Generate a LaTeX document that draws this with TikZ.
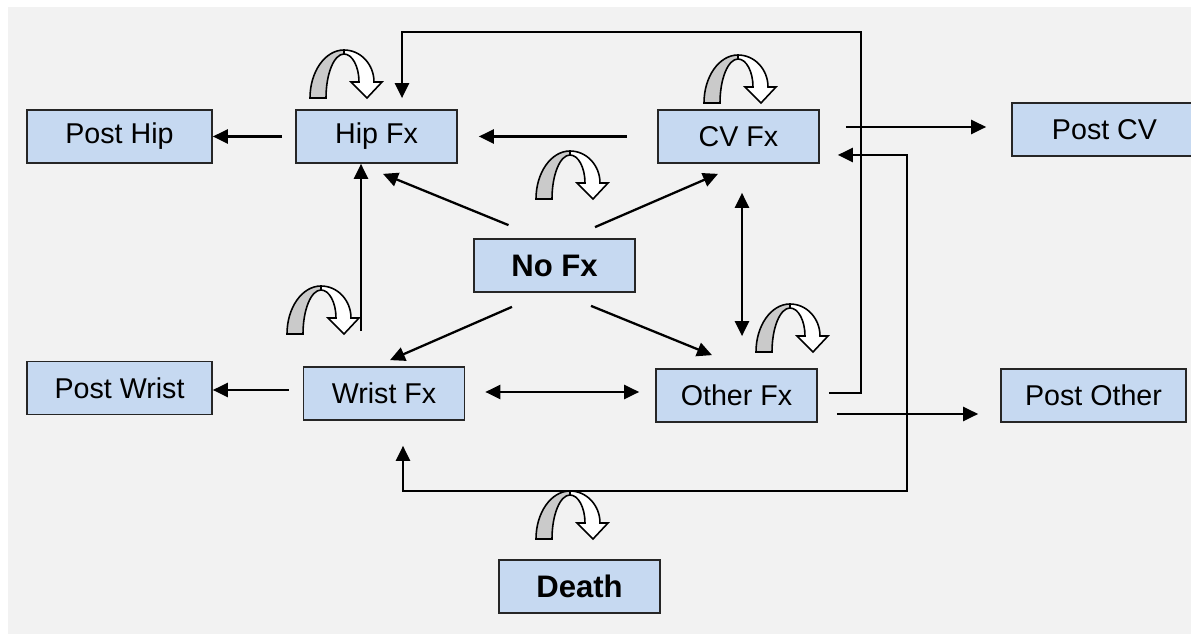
\documentclass[tikz,border=0pt]{standalone}
\usepackage{fontspec}
\setmainfont{Liberation Sans}
\usetikzlibrary{arrows.meta,calc}

\definecolor{latar}{HTML}{F2F2F2}
\definecolor{blok}{HTML}{C6D9F1}
\definecolor{abu}{HTML}{CACACA}

\tikzset{
  kotak/.style={draw=black!85, fill=blok, line width=1pt, minimum width=3.22cm,
    minimum height=1.06cm, inner sep=0pt, font=\fontsize{16.3}{19}\selectfont},
  kotakpost/.style={kotak, minimum width=3.7cm},
  tebal/.style={kotak, font=\fontsize{17.7}{20}\selectfont\bfseries},
  panah/.style={-{Triangle[length=8.5pt,width=8pt]}, line width=1.3pt},
  panahdua/.style={{Triangle[length=8.5pt,width=8pt]}-{Triangle[length=8.5pt,width=8pt]}, line width=1.3pt},
  putar/.pic={
    \begin{scope}[yscale=-1, line width=0.9pt]
      \filldraw[fill=abu] (0,0) arc[start angle=180,end angle=90,x radius=34,y radius=48]
        -- (34,44) arc[start angle=90,end angle=180,x radius=18,y radius=44] -- cycle;
      \filldraw[fill=white] (34,48) arc[start angle=90,end angle=0,x radius=30,y radius=32]
        -- (72,16) -- (57,0) -- (41,16) -- (49,16)
        arc[start angle=0,end angle=90,x radius=15,y radius=28] -- cycle;
    \end{scope}
  }
}

\begin{document}
\begin{tikzpicture}[x=0.02cm, y=-0.02cm]
  % latar
  \useasboundingbox (0,0) rectangle (1191,634);
  \fill[white] (0,0) rectangle (1191,634);
  \fill[latar] (8,7) rectangle (1191,634);

  % kotak
  \node[kotakpost] (posthip)   at (119.5,136.5) {Post Hip};
  \node[kotak]     (hip)       at (376.5,136.5) {Hip Fx};
  \node[kotak]     (cv)        at (738.5,136.5) {CV Fx};
  \node[kotakpost] (postcv)    at (1104.5,129.5) {Post CV};
  \node[tebal]     (nofx)      at (554.5,265.5) {No Fx};
  \node[kotakpost] (postwrist) at (119.5,388) {Post Wrist};
  \node[kotak]     (wrist)     at (384,393.5) {Wrist Fx};
  \node[kotak]     (other)     at (736.5,395.5) {Other Fx};
  \node[kotakpost] (postother) at (1093.5,395.5) {Post Other};
  \node[tebal]     (death)     at (579.5,586.5) {Death};

  % panah putar
  \pic at (310,98)  {putar};
  \pic at (704,103) {putar};
  \pic at (536,199) {putar};
  \pic at (287,334) {putar};
  \pic at (756,352) {putar};
  \pic at (536,539) {putar};

  % panah
  \draw[panah] ($(hip.west)+(-13,0)$) -- (posthip.east);
  \draw[panah] ($(cv.west)+(-30,0)$) -- ($(hip.east)+(21,0)$);
  \draw[panah] ($(nofx.north)+(-46,-13)$) -- ($(hip.south)+(6.5,10)$);
  \draw[panah] ($(nofx.north)+(40.5,-11)$) -- ($(cv.south)+(-20.5,10)$);
  \draw[panah] ($(nofx.south)+(-42.5,14)$) -- ($(wrist.north)+(6,-6)$);
  \draw[panah] ($(nofx.south)+(36.5,13)$) -- ($(other.north)+(-24.5,-13)$);
  \draw[panah] ($(wrist.north)+(-23,-35)$) coordinate (w1) -- (w1 |- hip.south);
  \draw[panahdua] ($(cv.south)+(3.5,29)$) -- ($(other.north)+(5.5,-32)$);
  \draw[panahdua] ($(wrist.east)+(20,-1.5)$) -- ($(other.west)+(-16,-3.5)$);
  \draw[panah] ($(wrist.west)+(-14,-3.5)$) coordinate (w2) -- (w2 -| postwrist.east);
  \draw[panah] ($(cv.east)+(26,-9.5)$) -- ($(postcv.west)+(-25,-2.5)$);
  \draw[panah] ($(other.east)+(19,18.5)$) -- ($(postother.west)+(-22,18.5)$);

  % garis keliling
  \coordinate (atas) at (861,32);
  \coordinate (bawah) at (907,491);
  \draw[panah] ($(other.east)+(11,-2.5)$) -| (atas) -| ($(hip.north)+(25.5,-11)$);
  \draw[panahdua] ($(cv.east)+(18,18.5)$) -| (bawah) -| ($(wrist.south)+(19,25)$);
\end{tikzpicture}
\end{document}
